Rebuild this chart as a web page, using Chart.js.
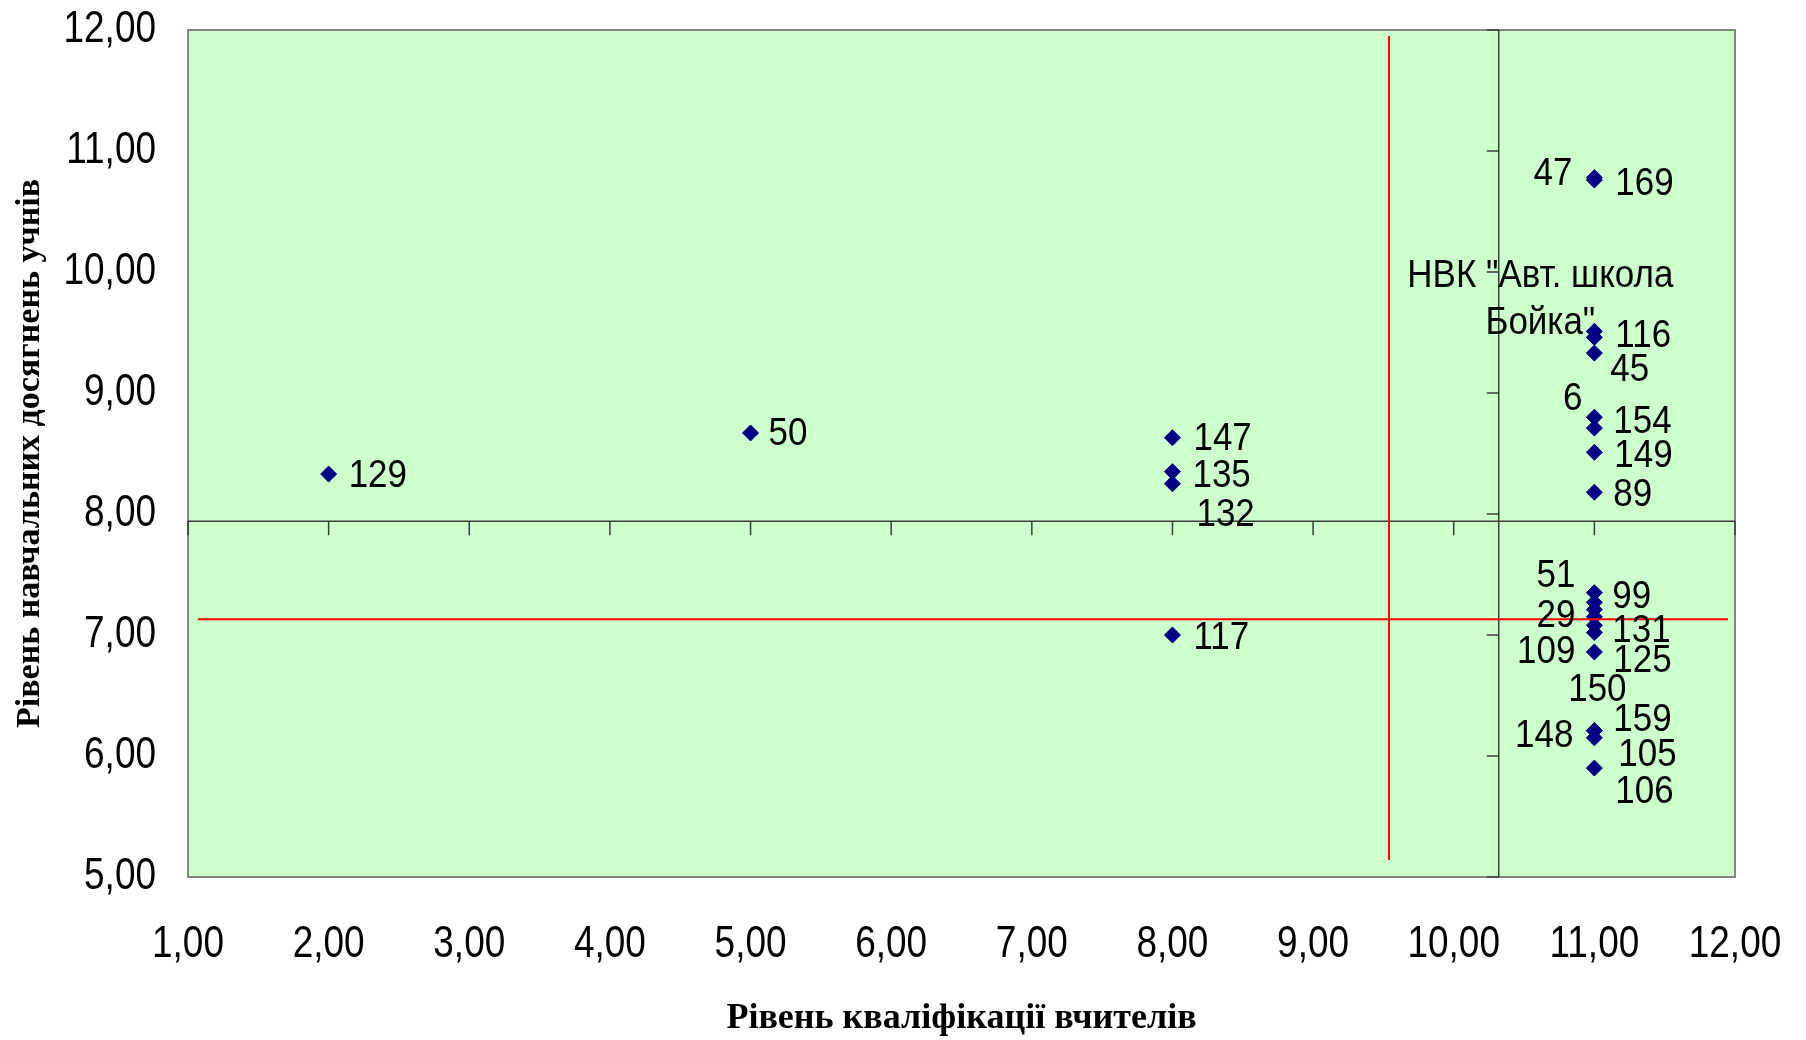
<!DOCTYPE html>
<html>
<head>
<meta charset="utf-8">
<script src="https://cdn.jsdelivr.net/npm/chart.js@4.4.1/dist/chart.umd.min.js"></script>
<style>
html,body{margin:0;padding:0;background:#fff;}
canvas{display:block;}
</style>
</head>
<body>
<canvas id="c" width="1806" height="1040"></canvas>
<script>
// ---- data ----
const pointLabels = ['129','50','147','135','132','117','47','169','116',
  ['НВК "Авт. школа','Бойка"'],'45','154','6','149','89',
  '51','99','29','131','109','125','150','148','159','105','106'];
const teacherLevel = [2,5,8,8,8,8,11,11,11,11,11,11,11,11,11,
  11,11,11,11,11,11,11,11,11,11,11];
const studentLevel = [8.33,8.67,8.63,8.35,8.25,7.00,10.78,10.76,9.51,9.46,9.33,8.80,8.71,8.51,8.18,
  7.35,7.27,7.21,7.15,7.08,7.02,6.86,6.21,6.21,6.15,5.90];
const meanTeacher = 9.54;          // vertical red line
const meanStudent = 7.13;          // horizontal red line
const meanTeacherSpan = [5.14, 11.95];
const meanStudentSpan = [1.07, 11.95];
const axisCrossX = 10.32;          // where the vertical axis crosses
const axisCrossY = 7.94;           // where the horizontal axis crosses
const xTickValues = [1,2,3,4,5,6,7,8,9,10,11,12];
const yTickValues = [5,6,7,8,9,10,11,12];
const xTitle = 'Рівень кваліфікації вчителів';
const yTitle = 'Рівень навчальних досягнень учнів';

// ---- label placement (style, not data): [align, dx, dy] ----
const labelLayout = [
  ['left',20,0],['left',18,0],['left',21,0],['left',20,3],['left',24,30],['left',21,2],
  ['right',-22,-5],['left',21,2],['left',21,3],['center',-54,-63],['left',16,15],
  ['left',19,3],['right',-12,-31],['left',20,2],['left',19,1],
  ['right',-19,-18],['left',18,-7],['right',-19,5],['left',18,13],['right',-19,25],
  ['left',19,27],['center',3,37],['right',-21,4],['left',19,-12],['left',24,16],['left',21,22]
];
const LABEL_DY = 2;
const LINE_GAP = 47;

const fmt = v => Number(v).toFixed(2).replace('.', ',');
const tickFont = '"Liberation Sans", Arial, sans-serif';
const TICK_SQUEEZE = 0.84;
const LABEL_SQUEEZE = 0.92;

// tick labels of the original are horizontally condensed: squeeze sans text while scales draw
const condensePlugin = {
  id: 'condense',
  beforeDraw(chart) {
    const ctx = chart.ctx;
    if (!ctx._origFillText) ctx._origFillText = ctx.fillText;
    const orig = ctx._origFillText;
    ctx.fillText = function (t, x, y) {
      if (this.font.indexOf('Serif') >= 0) return orig.call(this, t, x, y);
      this.save();
      this.translate(x, y);
      this.scale(TICK_SQUEEZE, 1);
      orig.call(this, t, 0, 0);
      this.restore();
    };
  },
  beforeDatasetsDraw(chart) {
    const ctx = chart.ctx;
    if (ctx._origFillText) ctx.fillText = ctx._origFillText;
  }
};

const bgPlugin = {
  id: 'bg',
  beforeDraw(chart) {
    const {ctx, chartArea: a} = chart;
    ctx.save();
    ctx.fillStyle = '#ffffff';
    ctx.fillRect(0, 0, chart.width, chart.height);
    ctx.fillStyle = '#CCFFCC';
    ctx.fillRect(a.left, a.top, a.right - a.left, a.bottom - a.top);
    ctx.restore();
  },
  beforeDatasetsDraw(chart) {
    const {ctx, chartArea: a, scales: {x, y}} = chart;
    ctx.save();
    ctx.strokeStyle = '#858585';
    ctx.lineWidth = 2;
    ctx.strokeRect(a.left, a.top, a.right - a.left, a.bottom - a.top);
    ctx.strokeStyle = '#3c3c3c';
    ctx.lineWidth = 1.5;
    const yc = y.getPixelForValue(axisCrossY);
    const xc = x.getPixelForValue(axisCrossX);
    ctx.beginPath();
    ctx.moveTo(a.left, yc); ctx.lineTo(a.right, yc);
    ctx.moveTo(xc, a.top); ctx.lineTo(xc, a.bottom);
    xTickValues.forEach(v => {
      const px = x.getPixelForValue(v);
      ctx.moveTo(px, yc); ctx.lineTo(px, yc + 14);
    });
    yTickValues.forEach(v => {
      const py = y.getPixelForValue(v);
      ctx.moveTo(xc, py); ctx.lineTo(xc - 12, py);
    });
    ctx.stroke();
    ctx.restore();
  }
};

const labelPlugin = {
  id: 'ptlabels',
  afterDatasetsDraw(chart) {
    const meta = chart.getDatasetMeta(0);
    const ctx = chart.ctx;
    ctx.save();
    ctx.fillStyle = '#000';
    ctx.font = '38px "Liberation Sans", Arial, sans-serif';
    ctx.textBaseline = 'middle';
    meta.data.forEach((el, i) => {
      const [align, dx, dy] = labelLayout[i];
      const lines = [].concat(pointLabels[i]);
      lines.forEach((t, j) => {
        ctx.save();
        ctx.translate(el.x + dx, el.y + dy + LABEL_DY + j * LINE_GAP);
        ctx.scale(LABEL_SQUEEZE, 1);
        ctx.textAlign = align;
        ctx.fillText(t, 0, 0);
        ctx.restore();
      });
    });
    ctx.restore();
  }
};

new Chart(document.getElementById('c'), {
  type: 'scatter',
  data: {
    datasets: [
      {
        label: 'schools',
        data: teacherLevel.map((v, i) => ({x: v, y: studentLevel[i]})),
        pointStyle: 'rectRot',
        pointRadius: 8,
        pointBackgroundColor: '#000080',
        pointBorderColor: '#000080',
        pointBorderWidth: 1,
        order: 1
      },
      {
        label: 'meanX',
        data: meanTeacherSpan.map(v => ({x: meanTeacher, y: v})),
        showLine: true, borderColor: '#FF0000', borderWidth: 2, pointRadius: 0, order: 0
      },
      {
        label: 'meanY',
        data: meanStudentSpan.map(v => ({x: v, y: meanStudent})),
        showLine: true, borderColor: '#FF0000', borderWidth: 2, pointRadius: 0, order: 0
      }
    ]
  },
  options: {
    responsive: false,
    animation: false,
    devicePixelRatio: 1,
    layout: {padding: {top: 30, right: 71, left: 0, bottom: 0}},
    plugins: {legend: {display: false}, tooltip: {enabled: false}},
    scales: {
      x: {
        type: 'linear', position: 'bottom', min: 1, max: 12,
        grid: {display: false, drawTicks: false},
        border: {display: false},
        afterBuildTicks: s => { s.ticks = xTickValues.map(v => ({value: v})); },
        afterFit: s => { s.height = 163; s.paddingLeft = 0; s.paddingRight = 0; },
        ticks: {padding: 41, color: '#000', maxRotation: 0, minRotation: 0, autoSkip: false,
          font: {family: tickFont, size: 44}, callback: fmt},
        title: {display: true, text: xTitle, color: '#000',
          font: {family: '"Liberation Serif", "Times New Roman", serif', size: 36, weight: 'bold'},
          padding: {top: 0, bottom: 0}}
      },
      y: {
        type: 'linear', position: 'left', min: 5, max: 12,
        grid: {display: false, drawTicks: false},
        border: {display: false},
        afterBuildTicks: s => { s.ticks = yTickValues.map(v => ({value: v})); },
        afterFit: s => { s.width = 188; s.paddingTop = 0; s.paddingBottom = 0; },
        ticks: {padding: 32, color: '#000', autoSkip: false,
          font: {family: tickFont, size: 44}, callback: fmt},
        title: {display: true, text: yTitle, color: '#000',
          font: {family: '"Liberation Serif", "Times New Roman", serif', size: 34, weight: 'bold'},
          padding: {top: 10, bottom: 0}}
      }
    }
  },
  plugins: [condensePlugin, bgPlugin, labelPlugin]
});
</script>
</body>
</html>
